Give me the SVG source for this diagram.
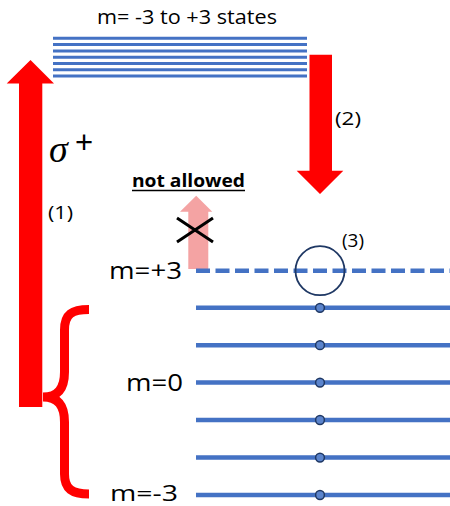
<svg xmlns="http://www.w3.org/2000/svg" width="450" height="506" viewBox="0 0 450 506">
<style>
.t{font-family:"Open Sans","Liberation Sans",Arial,sans-serif;fill:#000}
.lvl{stroke:#4472c4;stroke-width:4.5;fill:none}
.top{stroke:#4472c4;stroke-width:3;fill:none}
.dot{fill:#5b84cc;stroke:#1f3864;stroke-width:1.5}
.red{fill:#ff0000}
</style>
<rect width="450" height="506" fill="#fff"/>
<g id="upper-states">
<path class="top" d="M53 38.3H307M53 44.6H307M53 50.9H307M53 57.2H307M53 63.5H307M53 69.8H307M53 76.1H307"/>
<text class="t" x="97" y="24" font-size="20.5" textLength="180" lengthAdjust="spacingAndGlyphs">m= -3 to +3 states</text>
</g>
<g id="connectors">
<path id="arrow1" class="red" d="M19 407V83.5H6.7L30.5 60L54 83.5H42.3V407Z"/>
<path id="brace" d="M89 309.5C72 309.5 64.5 314 64.5 330V372C64.5 388 58 397 43 397C58 397 64.5 406 64.5 422V474C64.5 489 72 494 89 494" fill="none" stroke="#ff0000" stroke-width="9"/>
<path id="arrow2" class="red" d="M309.5 54.7H332V170.7H343.3L320 194L296.7 170.7H309.5Z"/>
<path id="forbidden" d="M188.3 269V211.7H180L196.2 195.7L212.3 211.7H208.3V269Z" fill="#f4a3a3"/>
<path d="M177 218L213 242M177 242L213 218" stroke="#000" stroke-width="3" fill="none"/>
</g>
<g id="labels">
<text x="49" y="162" font-family="'Liberation Serif','Times New Roman',serif" font-style="italic" font-size="38">σ</text>
<text x="75" y="153" font-family="'Liberation Sans',Arial,sans-serif" font-size="31">+</text>
<text class="t" x="48" y="219" font-size="19" textLength="25" lengthAdjust="spacingAndGlyphs">(1)</text>
<text class="t" x="335" y="125" font-size="19" textLength="26" lengthAdjust="spacingAndGlyphs">(2)</text>
<text class="t" x="342" y="247" font-size="19" textLength="22" lengthAdjust="spacingAndGlyphs">(3)</text>
<text class="t" x="132" y="187" font-size="18" font-weight="bold" textLength="113" lengthAdjust="spacingAndGlyphs">not allowed</text>
<line x1="132" y1="190.5" x2="245" y2="190.5" stroke="#000" stroke-width="1.5"/>
</g>
<g id="lower-states">
<line x1="196" y1="270.7" x2="450" y2="270.7" class="lvl" stroke-dasharray="14 5.5"/>
<circle cx="320" cy="270.7" r="24.5" fill="none" stroke="#1f3864" stroke-width="1.8"/>
<path class="lvl" d="M196 307.8H450M196 345.2H450M196 382.6H450M196 420H450M196 457.6H450M196 495H450"/>
<circle class="dot" cx="320" cy="307.8" r="4.4"/>
<circle class="dot" cx="320" cy="345.2" r="4.4"/>
<circle class="dot" cx="320" cy="382.6" r="4.4"/>
<circle class="dot" cx="320" cy="420" r="4.4"/>
<circle class="dot" cx="320" cy="457.6" r="4.4"/>
<circle class="dot" cx="320" cy="495" r="4.4"/>
<text class="t" x="109" y="279" font-size="23.5" textLength="73" lengthAdjust="spacingAndGlyphs">m=+3</text>
<text class="t" x="126" y="390.5" font-size="23.5" textLength="57" lengthAdjust="spacingAndGlyphs">m=0</text>
<text class="t" x="110" y="500.5" font-size="22.5" textLength="68" lengthAdjust="spacingAndGlyphs">m=-3</text>
</g>
</svg>
